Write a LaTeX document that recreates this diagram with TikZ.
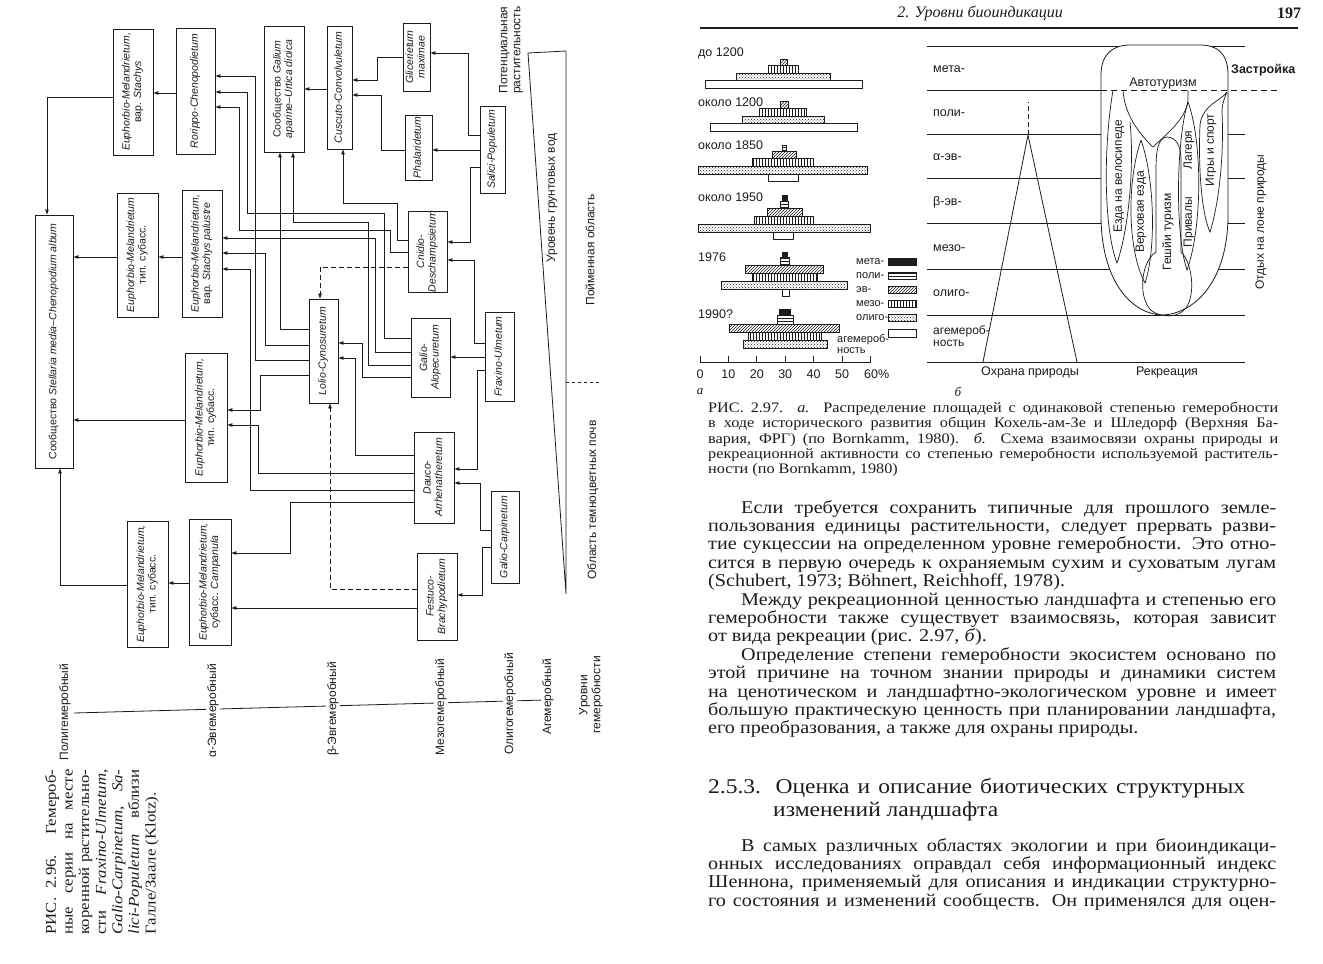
\documentclass[tikz,border=0pt]{standalone}
\usepackage{fontspec}
\setmainfont{Liberation Serif}
\setsansfont{Liberation Sans}
\newfontfamily\bodyfont{Liberation Serif}[FakeStretch=1.12]
\newfontfamily\capfont{Liberation Serif}[FakeStretch=1.12]
\usepackage{graphicx}
\usetikzlibrary{arrows.meta,patterns}
\definecolor{ink}{RGB}{28,28,28}

% rotated box text and justified lines
\newcommand\vt[1]{\rotatebox{90}{\begin{tabular}{@{}c@{}}#1\end{tabular}}}
\newcommand\jl[2][568pt]{\makebox[#1][s]{#2}}
\newcommand\gbar[5]{\draw[ink,line width=0.6pt,#1] (#2,#4) rectangle (#3,#5);}

\tikzset{
  hbox/.style={draw=ink,line width=0.8pt,inner sep=0pt,text=ink,
    font=\sffamily\fontsize{10.5}{11.5}\selectfont},
  wire/.style={draw=ink,line width=0.75pt,-{Triangle[length=5pt,width=3.4pt]}},
  dwire/.style={wire,dash pattern=on 5pt off 3pt},
  vlab/.style={rotate=90,align=center,inner sep=1pt,text=ink,
    font=\sffamily\fontsize{12}{13}\selectfont},
  alab/.style={inner sep=0pt,text=ink,font=\sffamily\fontsize{12.5}{13}\selectfont},
  llab/.style={inner sep=0pt,text=ink,font=\sffamily\fontsize{11}{11.5}\selectfont},
  rlab/.style={rotate=90,inner sep=0pt,text=ink,font=\sffamily\fontsize{12}{13}\selectfont},
  blab/.style={inner sep=0pt,text=ink,font=\sffamily\fontsize{12.5}{13}\selectfont},
  gmeta/.style={fill=ink},
  gpoly/.style={pattern=horizontal lines,pattern color=ink},
  geu/.style={pattern=north east lines,pattern color=ink},
  gmeso/.style={pattern=vertical lines,pattern color=ink},
  goligo/.style={pattern=crosshatch dots,pattern color=ink},
  gahem/.style={fill=white},
}

\begin{document}
\begin{tikzpicture}[x=1pt,y=-1pt]
\path[use as bounding box,fill=white] (0,0) rectangle (1323,964);

% ---------------- left page: hemeroby series ----------------
\node[hbox,minimum width=40,minimum height=126] (emst) at (133,92) {\vt{\textit{Euphorbio-Melandrietum,}\\вар. \textit{Stachys}}};
\node[hbox,minimum width=39,minimum height=126] (rorippo) at (195.5,91) {\vt{\textit{Rorippo-Chenopodietum}}};
\node[hbox,minimum width=40,minimum height=126] (galium) at (284,89) {\vt{Сообщество \textit{Galium}\\\textit{aparine--Urtica dioica}}};
\node[hbox,minimum width=25,minimum height=123] (cuscuto) at (339.5,87.5) {\vt{\textit{Cuscuto-Convolvuletum}}};
\node[hbox,minimum width=27,minimum height=68] (glic) at (416.5,57) {\vt{\textit{Glicerietum}\\\textit{maximae}}};
\node[hbox,minimum width=27,minimum height=65] (phal) at (418.5,147.5) {\vt{\textit{Phalaridetum}}};
\node[hbox,minimum width=25,minimum height=87] (salici) at (492.5,149.5) {\vt{\textit{Salici-Populetum}}};
\node[hbox,minimum width=39,minimum height=81] (cnidio) at (427.5,251.5) {\vt{\textit{Cnidio-}\\\textit{Deschampsietum}}};
\node[hbox,minimum width=40,minimum height=127] (emsp) at (202,253.5) {\vt{\textit{Euphorbio-Melandrietum,}\\вар. \textit{Stachys palustre}}};
\node[hbox,minimum width=41,minimum height=124] (emtop) at (137.5,255) {\vt{\textit{Euphorbio-Melandrietum}\\тип. субасс.}};
\node[hbox,minimum width=38,minimum height=253] (stellaria) at (54,341.5) {\vt{Сообщество \textit{Stellaria media--Chenopodium album}}};
\node[hbox,minimum width=29,minimum height=104] (lolio) at (323.5,351) {\vt{\textit{Lolio-Cynosuretum}}};
\node[hbox,minimum width=39,minimum height=79] (galioal) at (430.5,357.5) {\vt{\textit{Galio-}\\\textit{Alopecuretum}}};
\node[hbox,minimum width=29,minimum height=89] (fraxino) at (499.5,356.5) {\vt{\textit{Fraxino-Ulmetum}}};
\node[hbox,minimum width=42,minimum height=129] (emmid) at (206,417.5) {\vt{\textit{Euphorbio-Melandrietum,}\\тип. субасс.}};
\node[hbox,minimum width=40,minimum height=91] (dauco) at (434,477.5) {\vt{\textit{Dauco-}\\\textit{Arrhenatheretum}}};
\node[hbox,minimum width=28,minimum height=92] (galiocarp) at (505,537) {\vt{\textit{Galio-Carpinetum}}};
\node[hbox,minimum width=40,minimum height=87] (festuco) at (437,596.5) {\vt{\textit{Festuco-}\\\textit{Brachypodietum}}};
\node[hbox,minimum width=41,minimum height=126] (emlow) at (147.5,584) {\vt{\textit{Euphorbio-Melandrietum,}\\тип. субасс.}};
\node[hbox,minimum width=42,minimum height=126] (emcamp) at (210,582) {\vt{\textit{Euphorbio-Melandrietum,}\\субасс. \textit{Campanula}}};

% short links
\draw[wire] (salici.west |- 0,135) -| (468,53) -- (glic.east |- 0,53);
\draw[wire] (salici.west |- 0,150) -- (phal.east |- 0,150);
\draw[wire] (salici.west |- 0,167) -| (470,242) -- (cnidio.east |- 0,242);
\draw[wire] (glic.west |- 0,57) -| (377,80) -- (cuscuto.east |- 0,80);
\draw[wire] (phal.west |- 0,150) -| (381,95) -- (cuscuto.east |- 0,95);
\draw[wire] (cuscuto.west |- 0,89) -- (galium.east |- 0,89);
\draw[wire] (cnidio.west |- 0,240) -| (397,203) -| (cuscuto.south -| 343,0);
\draw[wire] (fraxino.west |- 0,343) -| (474,260) -- (cnidio.east |- 0,260);
\draw[wire] (fraxino.west |- 0,357) -- (galioal.east |- 0,357);
\draw[wire] (fraxino.west |- 0,370) -| (477,469) -- (dauco.east |- 0,469);
\draw[wire] (galiocarp.west |- 0,530) -| (480,483) -- (dauco.east |- 0,483);
\draw[wire] (galiocarp.west |- 0,547) -| (482,595) -- (festuco.east |- 0,595);
\draw[dwire] (festuco.west |- 0,589) -| (lolio.south -| 330,0);
\draw[dwire] (cnidio.west |- 0,267) -| (lolio.north -| 320,0);
\draw[wire] (galioal.west |- 0,377) -| (362,343) -- (lolio.east |- 0,343);
\draw[wire] (dauco.west |- 0,455) -| (355,358) -- (lolio.east |- 0,358);
% long links to the left column
\draw[wire] (galioal.west |- 0,365) -| (368,222) -| (galium.south -| 293,0);
\draw[wire] (lolio.west |- 0,329) -| (galium.south -| 280,0);
\draw[wire] (galioal.west |- 0,352) -| (375,238) -- (emsp.east |- 0,238);
\draw[wire] (galioal.west |- 0,338) -| (384,213) -| (247,92) -- (rorippo.east |- 0,92);
\draw[wire] (cnidio.west |- 0,252) -| (390,230) -| (239,107) -- (rorippo.east |- 0,107);
\draw[wire] (lolio.west |- 0,360) -| (255,76) -- (rorippo.east |- 0,76);
\draw[wire] (lolio.west |- 0,345) -| (265,253) -- (emsp.east |- 0,253);
\draw[wire] (dauco.west |- 0,490) -| (250,269) -- (emsp.east |- 0,269);
\draw[wire] (lolio.west |- 0,375) -| (260,410) -- (emmid.east |- 0,410);
\draw[wire] (dauco.west |- 0,473) -| (258,425) -- (emmid.east |- 0,425);
\draw[wire] (dauco.west |- 0,502) -| (290,553) -- (emcamp.east |- 0,553);
\draw[wire] (festuco.west |- 0,608) -- (emcamp.east |- 0,608);
\draw[wire] (emcamp.west |- 0,583) -- (emlow.east |- 0,583);
\draw[wire] (emlow.west |- 0,585) -| (stellaria.south -| 60,0);
\draw[wire] (emmid.west |- 0,420) -- (stellaria.east |- 0,420);
\draw[wire] (emtop.west |- 0,257) -- (stellaria.east |- 0,257);
\draw[wire] (emsp.west |- 0,257) -- (emtop.east |- 0,257);
\draw[wire] (rorippo.west |- 0,93) -- (emst.east |- 0,93);
\draw[wire] (emst.west |- 0,97) -| (stellaria.north -| 47,0);

% water table wedge and site labels
\draw[ink,line width=0.8pt] (528,53) -- (566,51) -- (566,594) -- cycle;
\draw[ink,line width=0.8pt,dashed] (566,382) -- (602,382);
\node[vlab] (potveg) at (511,50) {Потенциальная\\растительность};
\node[vlab] (gwater) at (552,198) {Уровень грунтовых вод};
\node[vlab] (flood) at (590,250) {Пойменная область};
\node[vlab] (darksoil) at (593,500) {Область темноцветных почв};

% hemeroby axis
\draw[ink,line width=0.8pt] (74,713) -- (545,700);
\node[vlab,fill=white] (lpoly) at (65,712) {Полигемеробный};
\node[vlab,fill=white] (lalpha) at (213,711) {α-Эвгемеробный};
\node[vlab,fill=white] (lbeta) at (333,709) {β-Эвгемеробный};
\node[vlab,fill=white] (lmeso) at (441,707) {Мезогемеробный};
\node[vlab,fill=white] (loligo) at (510,704) {Олигогемеробный};
\node[vlab,fill=white] (lahem) at (548,697) {Агемеробный};
\node[vlab] (llevels) at (591,695) {Уровни\\гемеробности};

% caption 2.96
\node[rotate=90,align=left,inner sep=0pt,text=ink,font=\capfont\fontsize{15}{16.6}\selectfont] (cap96) at (102,852)
  {\jl[165pt]{РИС. 2.96. Гемероб-}\\
   \jl[165pt]{ные серии на месте}\\
   \jl[165pt]{коренной растительно-}\\
   \jl[165pt]{сти \textit{Fraxino-Ulmetum,}}\\
   \jl[165pt]{\textit{Galio-Carpinetum,} \textit{Sa-}}\\
   \jl[165pt]{\textit{lici-Populetum} вблизи}\\
   Галле/Заале (Klotz).};

% ---------------- right page ----------------
\node[inner sep=0pt,text=ink,font=\itshape\fontsize{16}{18}\selectfont] (runhead) at (980,13) {2. Уровни биоиндикации};
\node[inner sep=0pt,text=ink,font=\bfseries\fontsize{16}{18}\selectfont] (pageno) at (1289,13) {197};
\draw[ink,line width=1.1pt] (700,28) -- (1298,28);

% a: shares of hemeroby levels
\foreach \lb/\yy [count=\i] in {до 1200/53,около 1200/102,около 1850/145,около 1950/197,1976/257,1990?/314}
  \node[alab,anchor=west] (era\i) at (698,\yy) {\lb};
\gbar{geu}{780}{787}{59}{65}
\gbar{gmeso}{768}{798}{65}{73}
\gbar{goligo}{736}{830}{73}{80}
\gbar{gahem}{705}{862}{80}{88}
\gbar{geu}{780}{788}{101}{108}
\gbar{gmeso}{759}{806}{108}{116}
\gbar{goligo}{742}{824}{116}{123}
\gbar{gahem}{710}{857}{123}{131}
\gbar{gpoly}{782}{786}{145}{151}
\gbar{geu}{772}{796}{151}{158}
\gbar{gmeso}{752}{813}{158}{166}
\gbar{goligo}{698}{867}{166}{174}
\gbar{gahem}{768}{798}{174}{181}
\gbar{gmeta}{782}{787}{195}{201}
\gbar{gpoly}{780}{788}{201}{208}
\gbar{geu}{767}{802}{208}{216}
\gbar{gmeso}{754}{813}{216}{224}
\gbar{goligo}{698}{870}{224}{232}
\gbar{gahem}{773}{793}{232}{239}
\gbar{gmeta}{782}{787}{252}{257}
\gbar{gpoly}{780}{789}{257}{265}
\gbar{geu}{745}{823}{265}{273}
\gbar{gmeso}{752}{817}{273}{281}
\gbar{goligo}{721}{847}{281}{289}
\gbar{gahem}{782}{789}{289}{296}
\gbar{gmeta}{779}{790}{309}{315}
\gbar{gpoly}{777}{793}{315}{324}
\gbar{geu}{729}{839}{324}{332}
\gbar{gmeso}{748}{821}{332}{340}
\gbar{goligo}{743}{827}{340}{348}
% legend
\foreach \st/\lb/\yy [count=\i] in {gmeta/мета-/262,gpoly/поли-/276,geu/эв-/290,gmeso/мезо-/304,goligo/олиго-/318}{
  \node[llab,anchor=west] (leg\i) at (856,\yy) {\lb};
  \gbar{\st}{888}{916}{\yy-3.5}{\yy+3.5}
}
\gbar{gahem}{888}{916}{329}{337}
\node[llab,anchor=west,align=left] (leg6) at (837,344) {агемероб-\\ность};
% scale
\draw[ink,line width=0.8pt] (700,362) -- (871,362);
\foreach \k/\v in {0/0,1/10,2/20,3/30,4/40,5/50}{
  \draw[ink,line width=0.8pt] (700+28.4*\k,356) -- (700+28.4*\k,362);
  \node[alab] (tick\k) at (700+28.4*\k,374) {\v};
}
\draw[ink,line width=0.8pt] (870.4,356) -- (870.4,362);
\node[alab,anchor=west] (tick6) at (864,374) {60\%};
\node[inner sep=0pt,text=ink,font=\itshape\fontsize{13}{14}\selectfont] (figa) at (700,392) {а};
\node[inner sep=0pt,text=ink,font=\itshape\fontsize{13}{14}\selectfont] (figb) at (958,392) {б};

% b: conservation and recreation
\foreach \yy in {46,134,178,223,269,315,362}
  \draw[ink,line width=0.7pt] (927,\yy) -- (1245,\yy);
\draw[ink,line width=0.7pt] (927,90) -- (1101,90);
\draw[ink,line width=0.8pt] (983,362) -- (1028,135) -- (1077,362);
\draw[ink,line width=0.8pt,dash pattern=on 5pt off 3pt] (1028,135) -- (1028,102);
\draw[ink,line width=0.8pt,fill=white] (1101,75) -- (1101,215)
  .. controls (1101,282) and (1132,314) .. (1162,315)
  .. controls (1194,314) and (1228,282) .. (1228,215) -- (1228,75)
  .. controls (1228,52) and (1216,45) .. (1200,45) -- (1130,45)
  .. controls (1112,45) and (1101,55) .. (1101,75) -- cycle;
\draw[ink,line width=0.8pt,dash pattern=on 6pt off 4pt] (1101,90) -- (1277,90);
\draw[ink,line width=0.7pt] (1113,90) .. controls (1103,150) and (1104,230) .. (1117,263)
  .. controls (1130,225) and (1134,160) .. (1130,122);
\draw[ink,line width=0.7pt] (1123,90) .. controls (1124,110) and (1135,130) .. (1153,147)
  .. controls (1165,135) and (1186,120) .. (1188,100) -- (1188,90);
\draw[ink,line width=0.7pt] (1141,140) .. controls (1127,180) and (1127,250) .. (1145,283)
  .. controls (1156,250) and (1155,180) .. (1141,140);
\draw[ink,line width=0.7pt] (1167,137) .. controls (1158,138) and (1156,150) .. (1156,170) -- (1156,252)
  .. controls (1140,262) and (1138,300) .. (1152,311)
  .. controls (1162,318) and (1178,318) .. (1186,308)
  .. controls (1196,294) and (1192,262) .. (1181,252) -- (1181,160)
  .. controls (1181,146) and (1176,137) .. (1167,137);
\draw[ink,line width=0.7pt] (1188,102) .. controls (1202,140) and (1203,225) .. (1187,270)
  .. controls (1175,235) and (1176,140) .. (1188,102);
\draw[ink,line width=0.7pt] (1227,92) .. controls (1222,100) and (1202,105) .. (1200,125)
  .. controls (1198,170) and (1202,215) .. (1210,232)
  .. controls (1220,200) and (1224,150) .. (1222,112)
  .. controls (1222,103) and (1225,97) .. (1227,92);
\foreach \lb/\yy [count=\i] in {мета-/69,поли-/113,α-эв-/157,β-эв-/202,мезо-/248,олиго-/293}
  \node[blab,anchor=west] (row\i) at (933,\yy) {\lb};
\node[blab,anchor=west,align=left,font=\sffamily\fontsize{12}{12.5}\selectfont] (row7) at (933,336) {агемероб-\\ность};
\node[blab] (autot) at (1163,83) {Автотуризм};
\node[blab,anchor=west,font=\sffamily\bfseries\fontsize{12.5}{13}\selectfont] (build) at (1231,70) {Застройка};
\node[rlab] (bike) at (1119,176) {Езда на велосипеде};
\node[rlab] (horse) at (1141,212) {Верховая езда};
\node[rlab] (hike) at (1168,232) {Гешйи туризм};
\node[rlab] (camps) at (1189,150) {Лагеря};
\node[rlab] (rests) at (1189,222) {Привалы};
\node[rlab] (games) at (1211,150) {Игры и спорт};
\node[rlab] (outdoor) at (1261,222) {Отдых на лоне природы};
\node[blab] (nature) at (1030,372) {Охрана природы};
\node[blab] (recr) at (1167,372) {Рекреация};

% caption 2.97
\node[anchor=north west,align=left,inner sep=0pt,text=ink,font=\capfont\fontsize{14.5}{15.3}\selectfont] (cap97) at (708,402)
  {\jl[570pt]{РИС. 2.97. \textit{а.} Распределение площадей с одинаковой степенью гемеробности}\\
   \jl[570pt]{в ходе исторического развития общин Кохель-ам-Зе и Шледорф (Верхняя Ба-}\\
   \jl[570pt]{вария, ФРГ) (по Bornkamm, 1980). \textit{б.} Схема взаимосвязи охраны природы и}\\
   \jl[570pt]{рекреационной активности со степенью гемеробности используемой раститель-}\\
   ности (по Bornkamm, 1980)};

% body text
\node[anchor=north west,align=left,inner sep=0pt,text=ink,font=\bodyfont\fontsize{18}{18.4}\selectfont] (body) at (708,500)
  {\hspace*{33pt}\jl[535pt]{Если требуется сохранить типичные для прошлого земле-}\\
   \jl{пользования единицы растительности, следует прервать разви-}\\
   \jl{тие сукцессии на определенном уровне гемеробности. Это отно-}\\
   \jl{сится в первую очередь к охраняемым сухим и суховатым лугам}\\
   (Schubert, 1973; Böhnert, Reichhoff, 1978).\\
   \hspace*{33pt}\jl[535pt]{Между рекреационной ценностью ландшафта и степенью его}\\
   \jl{гемеробности также существует взаимосвязь, которая зависит}\\
   от вида рекреации (рис. 2.97, \textit{б}).\\
   \hspace*{33pt}\jl[535pt]{Определение степени гемеробности экосистем основано по}\\
   \jl{этой причине на точном знании природы и динамики систем}\\
   \jl{на ценотическом и ландшафтно-экологическом уровне и имеет}\\
   \jl{большую практическую ценность при планировании ландшафта,}\\
   его преобразования, а также для охраны природы.};

\node[anchor=north west,align=left,inner sep=0pt,text=ink,font=\capfont\fontsize{21}{23}\selectfont] (sec) at (708,778)
  {\jl[537pt]{2.5.3. Оценка и описание биотических структурных}\\
   \hspace*{65pt}изменений ландшафта};

\node[anchor=north west,align=left,inner sep=0pt,text=ink,font=\bodyfont\fontsize{18}{18.4}\selectfont] (body2) at (708,838)
  {\hspace*{33pt}\jl[535pt]{В самых различных областях экологии и при биоиндикаци-}\\
   \jl{онных исследованиях оправдал себя информационный индекс}\\
   \jl{Шеннона, применяемый для описания и индикации структурно-}\\
   \jl{го состояния и изменений сообществ. Он применялся для оцен-}};
\end{tikzpicture}
\end{document}
